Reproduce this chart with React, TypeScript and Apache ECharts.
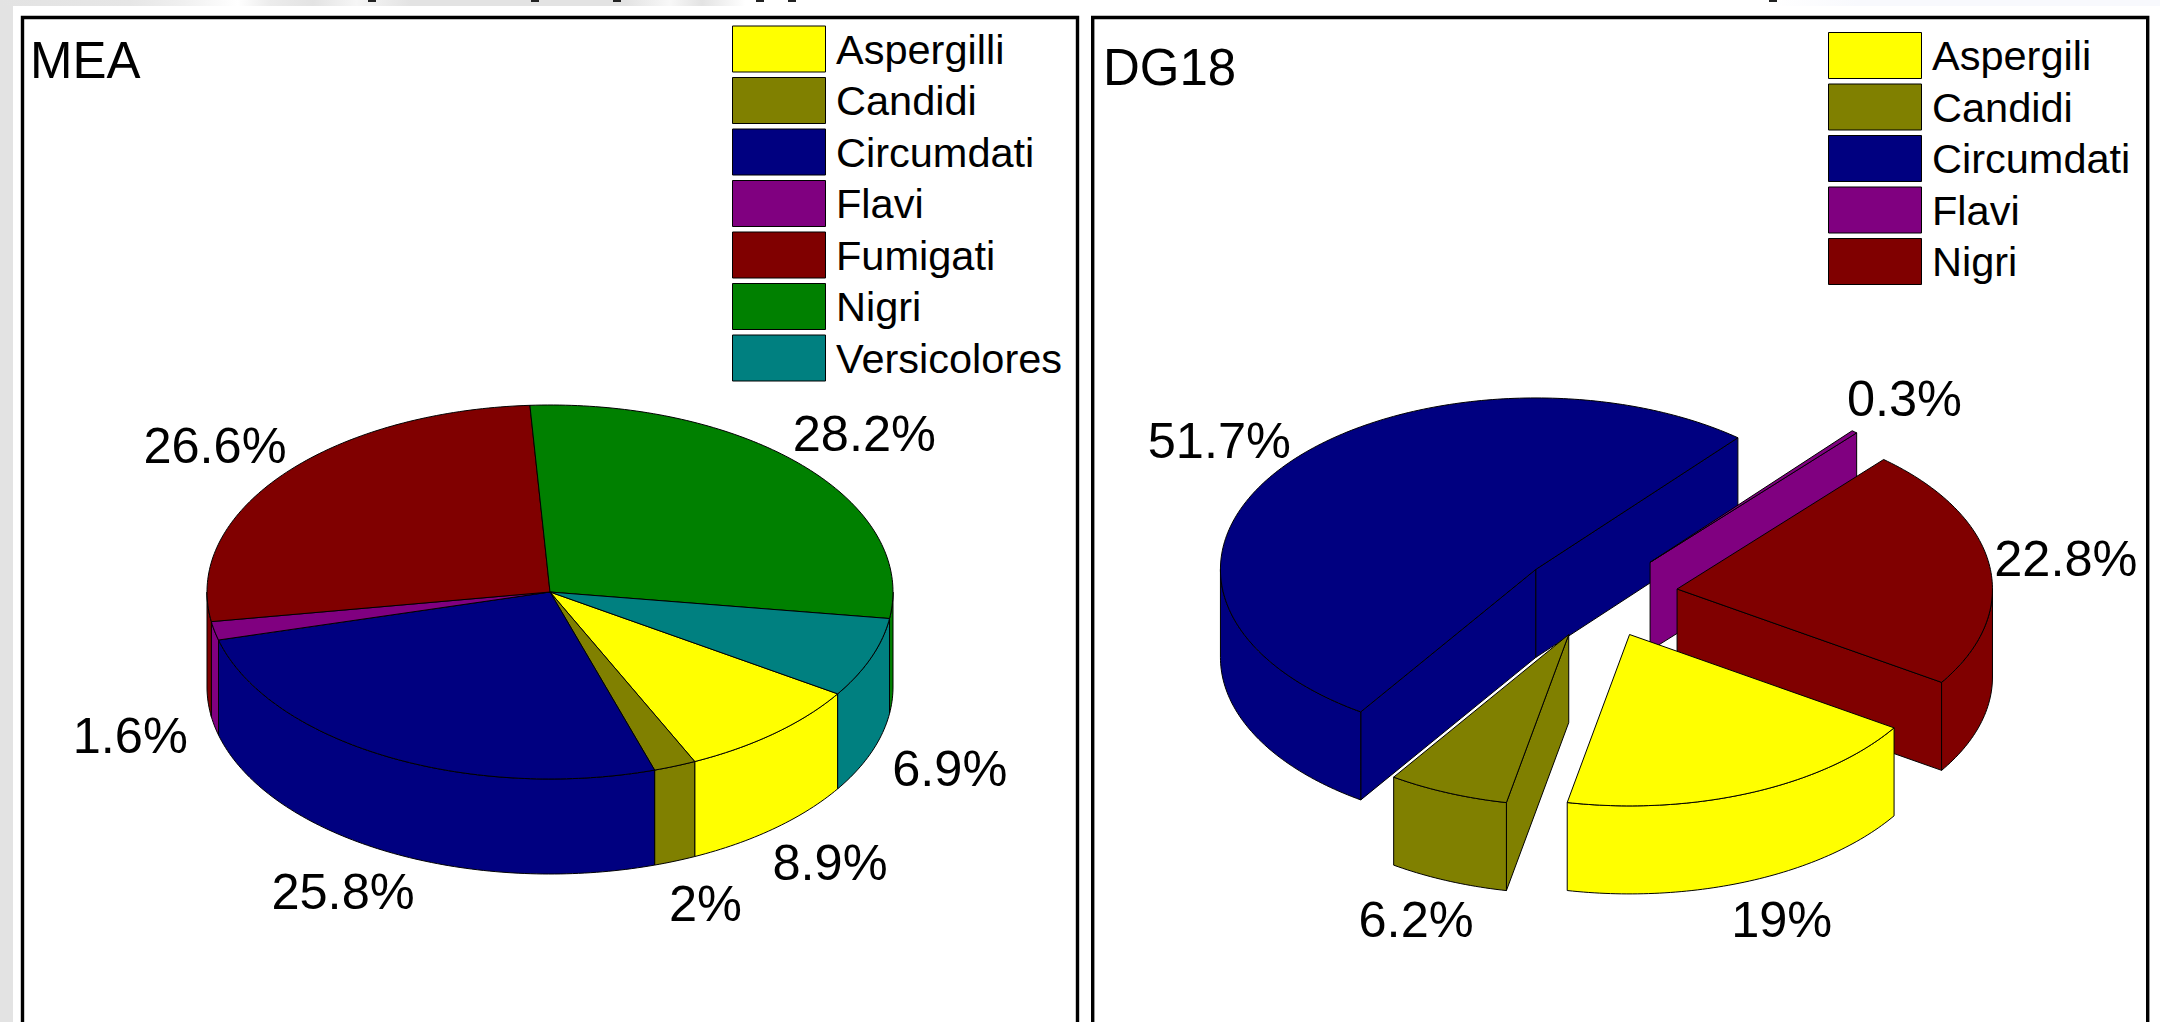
import React, { useEffect, useRef } from "react";
import * as echarts from "echarts";

// ---------- data ----------
const meaCategories = ["Aspergilli", "Candidi", "Circumdati", "Flavi", "Fumigati", "Nigri", "Versicolores"];
const meaValues = [8.9, 2, 25.8, 1.6, 26.6, 28.2, 6.9];
const meaColors = ["#ffff00", "#808000", "#000080", "#800080", "#800000", "#008000", "#008080"];

const dgCategories = ["Aspergili", "Candidi", "Circumdati", "Flavi", "Nigri"];
const dgValues = [19, 6.2, 51.7, 0.3, 22.8];
const dgColors = ["#ffff00", "#808000", "#000080", "#800080", "#800000"];

const FONT = '"Liberation Sans", Arial, sans-serif';
const START_ANGLE = 33; // degrees clockwise from east
const LABEL_RADIUS = 1.245;

type Pie = {
  names: string[];
  values: number[];
  colors: string[];
  cx: number;
  cy: number;
  rx: number;
  ry: number;
  depth: number;
  explode: number;
  order: number[];
};

const meaPie: Pie = {
  names: meaCategories,
  values: meaValues,
  colors: meaColors,
  cx: 550,
  cy: 592,
  rx: 343,
  ry: 187,
  depth: 95,
  explode: 0,
  order: [0, 1, 2, 3, 4, 5, 6],
};

const dgPie: Pie = {
  names: dgCategories,
  values: dgValues,
  colors: dgColors,
  cx: 1599,
  cy: 595,
  rx: 315.4,
  ry: 171.4,
  depth: 88,
  explode: 0.25,
  order: [2, 3, 4, 1, 0],
};

const rad = (d: number) => (d * Math.PI) / 180;

function sliceGroup(pie: Pie, i: number, value: number) {
  const total = pie.values.reduce((a, b) => a + b, 0);
  const before = pie.values.slice(0, i).reduce((a, b) => a + b, 0);
  const a0 = START_ANGLE + (before / total) * 360;
  const a1 = a0 + (value / total) * 360;
  const mid = (a0 + a1) / 2;
  const ox = pie.cx + pie.explode * pie.rx * Math.cos(rad(mid));
  const oy = pie.cy + pie.explode * pie.ry * Math.sin(rad(mid));
  const pt = (a: number, dz = 0) => [ox + pie.rx * Math.cos(rad(a)), oy + pie.ry * Math.sin(rad(a)) + dz];
  const arc = (from: number, to: number, dz = 0) => {
    const n = Math.max(2, Math.ceil(Math.abs(to - from)));
    const out: number[][] = [];
    for (let k = 0; k <= n; k++) out.push(pt(from + ((to - from) * k) / n, dz));
    return out;
  };
  const base = { stroke: "#000", lineWidth: 1, fill: pie.colors[i], lineJoin: "round" };
  const children: any[] = [];

  // radial cut faces, only when the slice stands apart from the others
  if (pie.explode > 0) {
    const face = (a: number) => ({
      type: "polygon",
      shape: { points: [[ox, oy], pt(a), pt(a, pie.depth), [ox, oy + pie.depth]] },
      style: base,
    });
    if (Math.cos(rad(a0)) < 0) children.push(face(a0));
    if (Math.cos(rad(a1)) > 0) children.push(face(a1));
  }
  // outer wall: the part of the rim that faces the viewer
  for (const [lo, hi] of [[0, 180], [360, 540]]) {
    const from = Math.max(a0, lo);
    const to = Math.min(a1, hi);
    if (to > from) {
      children.push({
        type: "polygon",
        shape: { points: [...arc(from, to), ...arc(to, from, pie.depth)] },
        style: base,
      });
    }
  }
  return { ox, oy, mid, children, top: [[ox, oy], ...arc(a0, a1)], base };
}

function makeSeries(pie: Pie) {
  return pie.order.map((i) => ({
    type: "custom",
    name: pie.names[i],
    coordinateSystem: "none",
    silent: true,
    data: [[pie.values[i]]],
    renderItem: (_p: any, api: any) => {
      const value = api.value(0);
      const s = sliceGroup(pie, i, value);
      const sin = Math.sin(rad(s.mid));
      const cos = Math.cos(rad(s.mid));
      const lx = s.ox + LABEL_RADIUS * pie.rx * cos + (cos < 0 ? -2 : 0);
      const ly = s.oy + LABEL_RADIUS * pie.ry * sin + (sin > 0 ? pie.depth : -1);
      return {
        type: "group",
        children: [
          ...s.children,
          { type: "polygon", shape: { points: s.top }, style: s.base },
          {
            type: "text",
            style: {
              text: `${value}%`,
              x: lx,
              y: ly,
              textAlign: "center",
              textVerticalAlign: "middle",
              fontSize: 50.5,
              fontFamily: FONT,
              fill: "#000",
            },
          },
        ],
      };
    },
  }));
}

function makeLegend(pie: Pie, left: number, top: number) {
  return {
    left,
    top,
    orient: "vertical",
    icon: "rect",
    padding: 0,
    itemWidth: 93,
    itemHeight: 46,
    itemGap: 4.5,
    selectedMode: false,
    textStyle: { fontSize: 41.5, fontFamily: FONT, color: "#000", padding: [0, 0, 2, 5.5] },
    data: pie.names.map((name, i) => ({
      name,
      itemStyle: { color: pie.colors[i], borderColor: "#000", borderWidth: 1 },
    })),
  };
}

function backdrop() {
  const gray = "#e3e3e3";
  const white = "#ffffff";
  const stops: [number, string][] = [
    [0, gray], [0.06, "#e6e6e6"], [0.085, "#f0f0f0"], [0.11, white], [0.125, "#ececec"], [0.145, gray], [0.165, "#f6f6f6"], [0.19, gray],
    [0.29, gray], [0.31, "#f8f8f8"], [0.325, gray], [0.345, white], [0.82, white], [0.86, "#f8f9fd"], [1, "#f8f9fd"],
  ];
  const bits = [372, 535, 617, 760, 792, 1773].map((x) => ({
    type: "rect",
    shape: { x: x - 4, y: 0, width: 8, height: 2 },
    style: { fill: "#222" },
  }));
  return [
    { type: "rect", shape: { x: 0, y: 0, width: 13, height: 1022 }, style: { fill: gray } },
    {
      type: "rect",
      shape: { x: 0, y: 0, width: 2160, height: 6 },
      style: {
        fill: new echarts.graphic.LinearGradient(0, 0, 1, 0, stops.map(([offset, color]) => ({ offset, color }))),
      },
    },
    ...bits,
    {
      type: "rect",
      shape: { x: 22.5, y: 17.5, width: 1055, height: 1030 },
      style: { fill: "none", stroke: "#000", lineWidth: 3.4 },
    },
    {
      type: "rect",
      shape: { x: 1092.7, y: 17.5, width: 1055, height: 1030 },
      style: { fill: "none", stroke: "#000", lineWidth: 3.4 },
    },
  ];
}

export default function App() {
  const ref = useRef<HTMLDivElement>(null);
  useEffect(() => {
    document.body.style.margin = "0";
    document.body.style.background = "#fff";
    const chart = echarts.init(ref.current!, undefined, { renderer: "svg" });
    chart.setOption({
      animation: false,
      backgroundColor: "#fff",
      title: [
        { text: "MEA", left: 30, top: 35, padding: 0, textStyle: { fontSize: 51, fontWeight: "normal", fontFamily: FONT, color: "#000" } },
        { text: "DG18", left: 1103, top: 42, padding: 0, textStyle: { fontSize: 51, fontWeight: "normal", fontFamily: FONT, color: "#000" } },
      ],
      legend: [makeLegend(meaPie, 732, 25.5), makeLegend(dgPie, 1828, 32)],
      graphic: backdrop(),
      series: [...makeSeries(meaPie), ...makeSeries(dgPie)],
    });
    return () => chart.dispose();
  }, []);
  return <div ref={ref} style={{ position: "absolute", left: 0, top: 0, width: 2160, height: 1022 }} />;
}
